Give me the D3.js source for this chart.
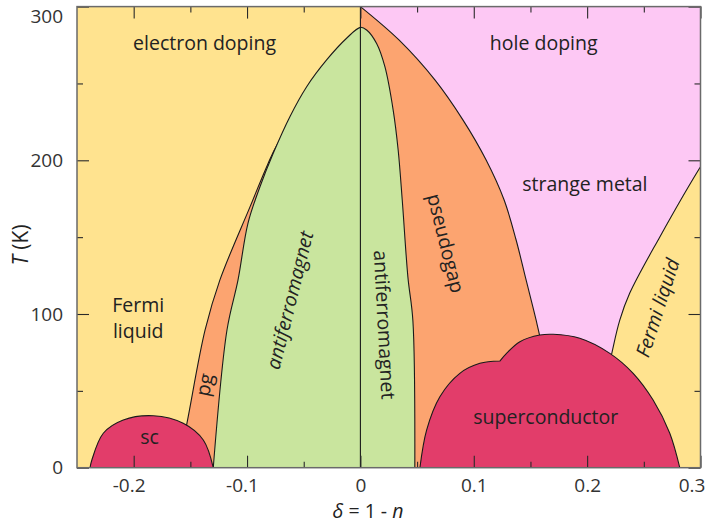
<!DOCTYPE html>
<html>
<head>
<meta charset="utf-8">
<script src="https://cdn.jsdelivr.net/npm/d3@7"></script>
<style>
  html, body { margin: 0; padding: 0; background: #ffffff; }
  svg { display: block; }
  text { font-family: "Open Sans", "DejaVu Sans", sans-serif; }
</style>
</head>
<body>
<svg id="chart" width="706" height="524"></svg>
<script>
// Doping (delta = 1 - n) versus temperature (K), phase boundaries as [delta, T] pairs.

// Antiferromagnet dome, electron side (T = 0 up to the apex at delta = 0)
const afElectronEdge = [
  [-0.1298, 0], [-0.1177, 89.6], [-0.108, 122], [-0.0992, 159], [-0.0886, 182.8],
  [-0.0769, 204.6], [-0.0622, 228.4], [-0.0474, 247.9], [-0.0298, 265.3],
  [-0.0122, 279.4], [0, 286.5]
];
// Antiferromagnet dome, hole side (apex down to T = 0)
const afHoleEdge = [
  [0.0055, 284.8], [0.0143, 276], [0.0216, 260.9], [0.0289, 232.7], [0.0333, 206.7],
  [0.0369, 174.2], [0.0419, 124], [0.0463, 95.6], [0.048, 0]
];
// Electron-side pseudogap (pg) outer boundary
const pgElectronEdge = [
  [-0.161, 0], [-0.153, 29], [-0.137, 89.6], [-0.124, 122], [-0.0974, 169.7],
  [-0.082, 197], [-0.0736, 210], [-0.05, 235]
];
// Hole-side pseudogap / strange metal boundary
const pgHoleEdge = [
  [0, 300], [0.034, 278.3], [0.0657, 252.3], [0.0904, 226.3], [0.1108, 200.3],
  [0.1267, 174.3], [0.1373, 148.3], [0.1461, 122.3], [0.1549, 96.3],
  [0.1598, 79.8], [0.1627, 63.6]
];
// Hole-side Fermi liquid boundary
const fermiLiquidHoleEdge = [
  [0.212, 40], [0.2218, 74.6], [0.2288, 96], [0.2376, 113.6], [0.264, 150],
  [0.2993, 195], [0.31, 207]
];
// Superconducting domes
const scElectronDome = [
  [-0.2385, 0], [-0.2369, 5], [-0.2268, 22.4], [-0.2092, 31], [-0.1827, 33.8],
  [-0.1563, 28.9], [-0.1386, 18], [-0.1298, 0]
];
const scHoleLeftLobe = [
  [0.0525, 0], [0.0584, 24.5], [0.0701, 46.2], [0.0877, 61.4], [0.1054, 67.9], [0.123, 69.4]
];
const scHoleRightLobe = [
  [0.123, 69.4], [0.1289, 74.4], [0.1407, 82], [0.1583, 86.3], [0.17, 86.8],
  [0.1935, 84.2], [0.22, 74.4], [0.2406, 61.4], [0.2582, 44], [0.2729, 22.4], [0.2817, 0]
];

// Axis ticks
const xTicksMajor = [-0.2, -0.1, 0, 0.1, 0.2, 0.3];
const xTicksMinor = [-0.15, -0.05, 0.05, 0.15, 0.25];
const yTicksMajor = [0, 100, 200, 300];
const yTicksMinor = [50, 150, 250];
const xTickLabels = ["-0.2", "-0.1", "0", "0.1", "0.2", "0.3"];
const yTickLabels = ["0", "100", "200", "300"];

const colors = {
  yellow: "#ffe38f",
  pink: "#fdc8f4",
  orange: "#fca470",
  green: "#c9e59e",
  red: "#e23d6a",
  line: "#1a1a1a",
  text: "#222222",
  frame: "#6a6a6a"
};

const svg = d3.select("#chart");
const x = d3.scaleLinear().domain([-0.25, 0.3]).range([77, 700.5]);
const y = d3.scaleLinear().domain([0, 300]).range([467.7, 6.6]);

const [x0, x1] = x.range();
const [y0, y1] = y.range();

svg.append("defs").append("clipPath").attr("id", "plotClip")
  .append("rect").attr("x", x0).attr("y", y1).attr("width", x1 - x0).attr("height", y0 - y1);

const plot = svg.append("g").attr("clip-path", "url(#plotClip)");

const smooth = d3.line().x(d => x(d[0])).y(d => y(d[1])).curve(d3.curveCatmullRom.alpha(0.5));
const straight = d3.line().x(d => x(d[0])).y(d => y(d[1]));

// background: electron side and Fermi liquid
plot.append("rect").attr("x", x0).attr("y", y1).attr("width", x1 - x0).attr("height", y0 - y1)
  .attr("fill", colors.yellow);
// strange metal (hole side)
plot.append("rect").attr("x", x(0)).attr("y", y(300)).attr("width", x(0.3) - x(0)).attr("height", y(0) - y(300))
  .attr("fill", colors.pink);

// hole-side pseudogap
const pgHoleLast = pgHoleEdge[pgHoleEdge.length - 1];
const pgHolePath = smooth(pgHoleEdge) + straight([pgHoleLast, [pgHoleLast[0], 0], [0, 0]]).replace(/^M/, "L") + "Z";
plot.append("path").attr("d", pgHolePath).attr("fill", colors.orange);
plot.append("path").attr("d", smooth(pgHoleEdge)).attr("fill", "none")
  .attr("stroke", colors.line).attr("stroke-width", 1.1);

// hole-side Fermi liquid
const flLast = fermiLiquidHoleEdge[fermiLiquidHoleEdge.length - 1];
const flPath = smooth(fermiLiquidHoleEdge) + straight([flLast, [0.32, flLast[1]], [0.32, 0], [fermiLiquidHoleEdge[0][0], 0]]).replace(/^M/, "L") + "Z";
plot.append("path").attr("d", flPath).attr("fill", colors.yellow);
plot.append("path").attr("d", smooth(fermiLiquidHoleEdge)).attr("fill", "none")
  .attr("stroke", colors.line).attr("stroke-width", 1.1);

// electron-side pseudogap strip
const pgLast = pgElectronEdge[pgElectronEdge.length - 1];
const pgElPath = smooth(pgElectronEdge) + straight([pgLast, [0, pgLast[1]], [0, 0]]).replace(/^M/, "L") + "Z";
plot.append("path").attr("d", pgElPath).attr("fill", colors.orange);
plot.append("path").attr("d", smooth(pgElectronEdge)).attr("fill", "none")
  .attr("stroke", colors.line).attr("stroke-width", 1.1);

// antiferromagnet dome
const afDome = afElectronEdge.concat(afHoleEdge);
plot.append("path").attr("d", smooth(afDome) + "Z").attr("fill", colors.green)
  .attr("stroke", colors.line).attr("stroke-width", 1.1);

// superconducting domes
plot.append("path").attr("d", smooth(scElectronDome) + "Z").attr("fill", colors.red)
  .attr("stroke", colors.line).attr("stroke-width", 1.1);
const scHolePath = smooth(scHoleLeftLobe) + smooth(scHoleRightLobe).replace(/^M/, "L") + "Z";
plot.append("path").attr("d", scHolePath).attr("fill", colors.red)
  .attr("stroke", colors.line).attr("stroke-width", 1.1);

// delta = 0 divider
plot.append("line").attr("x1", x(0)).attr("x2", x(0)).attr("y1", y(0)).attr("y2", y(300))
  .attr("stroke", colors.line).attr("stroke-width", 1.1);

// region labels
const labels = svg.append("g").attr("fill", colors.text).attr("font-size", 19.5);
function label(text, dx, T, opts = {}) {
  const t = labels.append("text")
    .attr("text-anchor", "middle")
    .attr("transform", `translate(${x(dx)},${y(T)}) rotate(${opts.rotate || 0})`)
    .text(text);
  if (opts.italic) t.attr("font-style", "italic");
  if (opts.dy) t.attr("dy", opts.dy);
  return t;
}
label("electron doping", -0.1375, 272);
label("hole doping", 0.1617, 272);
label("strange metal", 0.198, 180);
label("Fermi", -0.196, 101.5);
label("liquid", -0.196, 84.5);
label("sc", -0.186, 15.6);
label("pg", -0.1376, 54, { rotate: -78, dy: "0.35em" });
label("antiferromagnet", -0.0623, 109, { rotate: -76, italic: true, dy: "0.35em" });
label("antiferromagnet", 0.0212, 93, { rotate: 87, dy: "0.35em" });
label("pseudogap", 0.0754, 146, { rotate: 76, dy: "0.35em" });
label("superconductor", 0.1635, 28.4);
label("Fermi liquid", 0.2623, 104, { rotate: -72, italic: true, dy: "0.35em" });

// frame and ticks
const axes = svg.append("g");
function tickAxis(axisFn, scale, values, size, labelsArr) {
  const a = axisFn(scale).tickValues(values).tickSize(-size);
  if (labelsArr) a.tickFormat((d, i) => labelsArr[i]).tickPadding(11);
  else a.tickFormat(() => "");
  return a;
}
const gB = axes.append("g").attr("transform", `translate(0,${y0})`)
  .call(tickAxis(d3.axisBottom, x, xTicksMajor, 12, xTickLabels));
axes.append("g").attr("transform", `translate(0,${y0})`).call(tickAxis(d3.axisBottom, x, xTicksMinor, 6));
axes.append("g").attr("transform", `translate(0,${y1})`).call(tickAxis(d3.axisTop, x, xTicksMajor, 12));
axes.append("g").attr("transform", `translate(0,${y1})`).call(tickAxis(d3.axisTop, x, xTicksMinor, 6));
const gL = axes.append("g").attr("transform", `translate(${x0},0)`)
  .call(tickAxis(d3.axisLeft, y, yTicksMajor, 12, yTickLabels));
axes.append("g").attr("transform", `translate(${x0},0)`).call(tickAxis(d3.axisLeft, y, yTicksMinor, 6));
axes.append("g").attr("transform", `translate(${x1},0)`).call(tickAxis(d3.axisRight, y, yTicksMajor, 12));
axes.append("g").attr("transform", `translate(${x1},0)`).call(tickAxis(d3.axisRight, y, yTicksMinor, 6));

axes.selectAll(".domain").remove();
axes.selectAll(".tick line").attr("stroke", "#2a2a2a").attr("stroke-width", 1.1);
axes.selectAll(".tick text").attr("fill", "#333").attr("font-size", 19)
  .attr("font-family", "'Open Sans', 'DejaVu Sans', sans-serif");
// nudge edge labels inward
gB.selectAll(".tick text").attr("dx", d => d < 0 ? -5 : (d === 0.3 ? -9 : 0));
gL.selectAll(".tick text").attr("dx", -3).attr("dy", d => d === 300 ? "0.85em" : "0.32em");

svg.append("rect").attr("x", x0).attr("y", y1).attr("width", x1 - x0).attr("height", y0 - y1)
  .attr("fill", "none").attr("stroke", colors.frame).attr("stroke-width", 1.5);

// axis titles
const yTitle = svg.append("text").attr("transform", "translate(28,245) rotate(-90)")
  .attr("text-anchor", "middle").attr("font-size", 21).attr("fill", "#222");
yTitle.append("tspan").attr("font-style", "italic").text("T");
yTitle.append("tspan").text(" (K)");

const xTitle = svg.append("text").attr("x", 368).attr("y", 517.5)
  .attr("text-anchor", "middle").attr("font-size", 19.5).attr("fill", "#222");
xTitle.append("tspan").attr("font-style", "italic").text("δ");
xTitle.append("tspan").text(" = 1 - ");
xTitle.append("tspan").attr("font-style", "italic").text("n");
</script>
</body>
</html>
